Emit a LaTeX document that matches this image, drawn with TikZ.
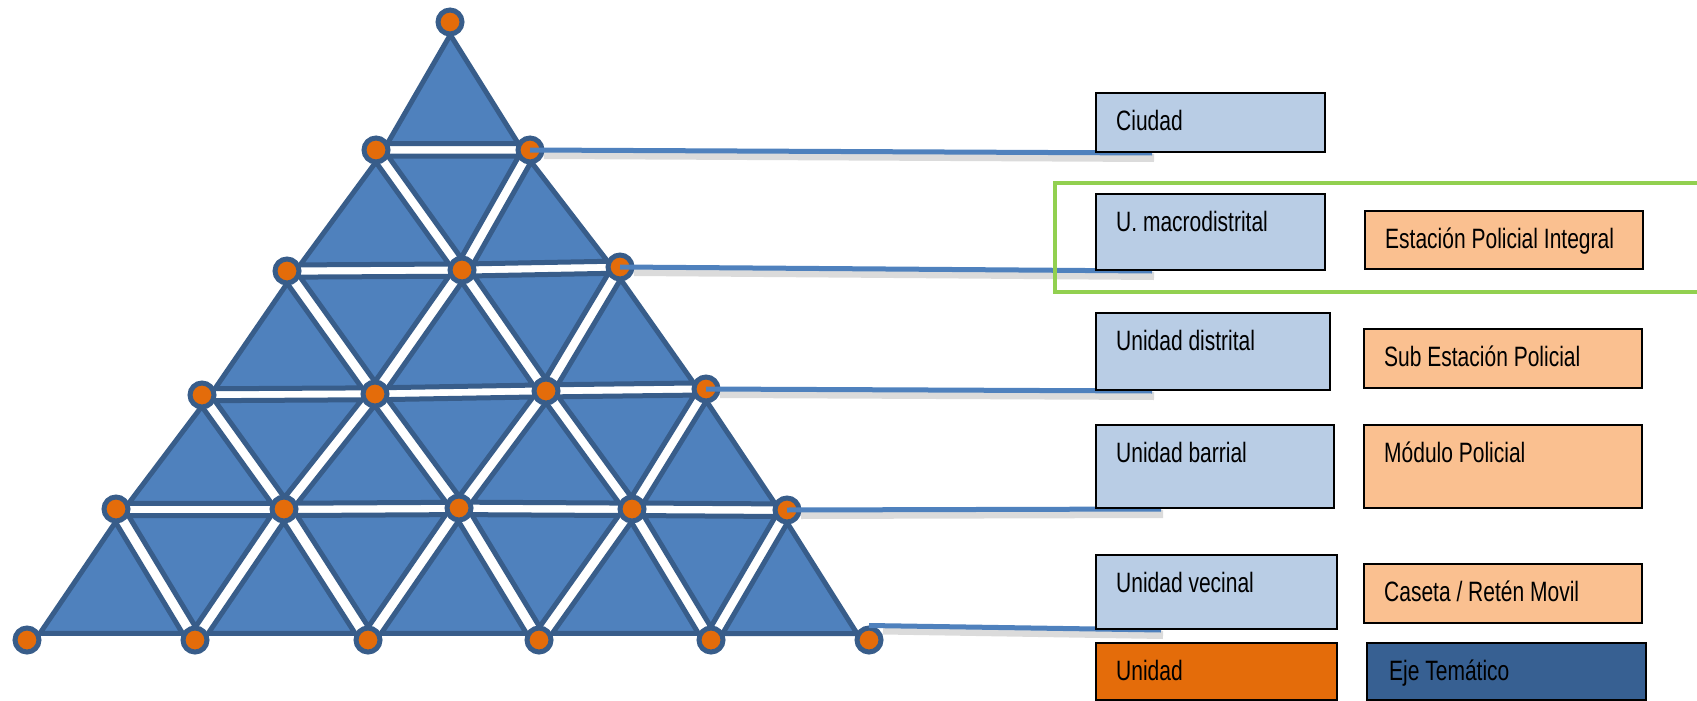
\documentclass[tikz,border=0pt]{standalone}
\usepackage{fontspec}
\setmainfont{Liberation Sans}[FakeStretch=0.75]
\usetikzlibrary{calc}
\definecolor{triblue}{HTML}{4F81BD}
\definecolor{triedge}{HTML}{385D8A}
\definecolor{dotorange}{HTML}{E46C0A}
\definecolor{boxblue}{HTML}{B9CDE5}
\definecolor{boxpeach}{HTML}{FAC090}
\definecolor{boxdark}{HTML}{376092}
\definecolor{framegreen}{HTML}{92D050}
\pgfdeclarelayer{bg}
\pgfdeclarelayer{conn}
\pgfsetlayers{bg,conn,main}
\newcommand\mytri[3]{%
  \coordinate (cen) at ($0.33333*(#1)+0.33333*(#2)+0.33334*(#3)$);
  \draw[tri] ($(cen)!0.85!(#1)$) -- ($(cen)!0.85!(#2)$) -- ($(cen)!0.85!(#3)$) -- cycle;}
\begin{document}
\begin{tikzpicture}[x=1pt,y=-1pt,
  tri/.style={fill=triblue,draw=triedge,line width=5pt,line join=miter},
  dot/.style={circle,fill=dotorange,draw=triedge,line width=5pt,minimum size=24pt,inner sep=0pt},
  conn/.style={draw=triblue,line width=5pt},
  connshadow/.style={draw=black,draw opacity=0.14,line width=8pt},
  boxbase/.style={draw=black,line width=2pt,anchor=north west,inner sep=0pt},
  ubox/.style={boxbase,fill=boxblue},
  pbox/.style={boxbase,fill=boxpeach},
  lbl/.style={anchor=base west,inner sep=0pt,font=\fontsize{28}{32}\selectfont},
]
\useasboundingbox (0,0) rectangle (1697,701);

% lattice points
\coordinate (p-0-0) at (450,22);
\coordinate (p-1-0) at (376,150);
\coordinate (p-1-1) at (530,150);
\coordinate (p-2-0) at (287,271);
\coordinate (p-2-1) at (462,270);
\coordinate (p-2-2) at (620,267);
\coordinate (p-3-0) at (202,395);
\coordinate (p-3-1) at (375,394);
\coordinate (p-3-2) at (546,391);
\coordinate (p-3-3) at (706,389);
\coordinate (p-4-0) at (116,509);
\coordinate (p-4-1) at (284,509);
\coordinate (p-4-2) at (459,508);
\coordinate (p-4-3) at (632,509);
\coordinate (p-4-4) at (787,510);
\coordinate (p-5-0) at (27,640);
\coordinate (p-5-1) at (195,640);
\coordinate (p-5-2) at (368,640);
\coordinate (p-5-3) at (539,640);
\coordinate (p-5-4) at (711,640);
\coordinate (p-5-5) at (869,640);

\begin{pgfonlayer}{bg}
% upward triangles
\foreach \r in {0,...,4}{%
  \pgfmathtruncatemacro\rn{\r+1}%
  \foreach \i in {0,...,\r}{%
    \pgfmathtruncatemacro\inn{\i+1}%
    \mytri{p-\r-\i}{p-\rn-\i}{p-\rn-\inn}%
  }%
}
% downward triangles
\foreach \r in {1,...,4}{%
  \pgfmathtruncatemacro\rn{\r+1}%
  \foreach \i in {1,...,\r}{%
    \pgfmathtruncatemacro\im{\i-1}%
    \mytri{p-\r-\im}{p-\r-\i}{p-\rn-\i}%
  }%
}
% dots
\foreach \r in {0,...,5}{%
  \foreach \i in {0,...,\r}{%
    \node[dot] (d-\r-\i) at (p-\r-\i) {};
  }%
}
\end{pgfonlayer}

% green frame
\draw[framegreen,line width=4.5pt] (1055,183) rectangle (1712,292);

% boxes
\node[ubox,minimum width=229pt,minimum height=59pt] (ciudad) at (1095,92) {};
\node[lbl] (tciudad) at ($(ciudad.north west)+(21,38.5)$) {Ciudad};

\node[ubox,minimum width=229pt,minimum height=76pt] (macro) at (1095,193) {};
\node[lbl] (tmacro) at ($(macro.north west)+(21,38.5)$) {U. macrodistrital};

\node[pbox,minimum width=278pt,minimum height=58pt] (estacion) at (1364,210) {};
\node[lbl] (testacion) at ($(estacion.north west)+(21,38.5)$) {Estación Policial Integral};

\node[ubox,minimum width=234pt,minimum height=77pt] (distrital) at (1095,312) {};
\node[lbl] (tdistrital) at ($(distrital.north west)+(21,38.5)$) {Unidad distrital};

\node[pbox,minimum width=278pt,minimum height=59pt] (sub) at (1363,328) {};
\node[lbl] (tsub) at ($(sub.north west)+(21,38.5)$) {Sub Estación Policial};

\node[ubox,minimum width=238pt,minimum height=83pt] (barrial) at (1095,424) {};
\node[lbl] (tbarrial) at ($(barrial.north west)+(21,38.5)$) {Unidad barrial};

\node[pbox,minimum width=278pt,minimum height=83pt] (modulo) at (1363,424) {};
\node[lbl] (tmodulo) at ($(modulo.north west)+(21,38.5)$) {Módulo Policial};

\node[ubox,minimum width=241pt,minimum height=74pt] (vecinal) at (1095,554) {};
\node[lbl] (tvecinal) at ($(vecinal.north west)+(21,38.5)$) {Unidad vecinal};

\node[pbox,minimum width=278pt,minimum height=59pt] (caseta) at (1363,563) {};
\node[lbl] (tcaseta) at ($(caseta.north west)+(21,38.5)$) {Caseta / Retén Movil};

\node[boxbase,fill=dotorange,minimum width=241pt,minimum height=57pt] (unidad) at (1095,642) {};
\node[lbl] (tunidad) at ($(unidad.north west)+(21,38.5)$) {Unidad};

\node[boxbase,fill=boxdark,minimum width=279pt,minimum height=57pt] (eje) at (1366,642) {};
\node[lbl] (teje) at ($(eje.north west)+(23,38.5)$) {Eje Temático};

% connectors
\begin{pgfonlayer}{conn}
\coordinate (e1) at ($(ciudad.south west)+(57,0)$);
\coordinate (e2) at ($(macro.south west)+(57,0)$);
\coordinate (e3) at ($(distrital.south west)+(57,0)$);
\coordinate (e4) at ($(barrial.south west)+(66,0)$);
\coordinate (e5) at ($(vecinal.south west)+(66,0)$);
\foreach \a/\b in {d-1-1.center/e1, d-2-2.center/e2, d-3-3.center/e3, d-4-4.center/e4, d-5-5.north/e5}{%
  \draw[connshadow] ($(\a)+(14,5)$) -- ($(\b)+(2,5)$);
  \draw[conn] (\a) -- (\b);
}
\end{pgfonlayer}
\end{tikzpicture}
\end{document}
